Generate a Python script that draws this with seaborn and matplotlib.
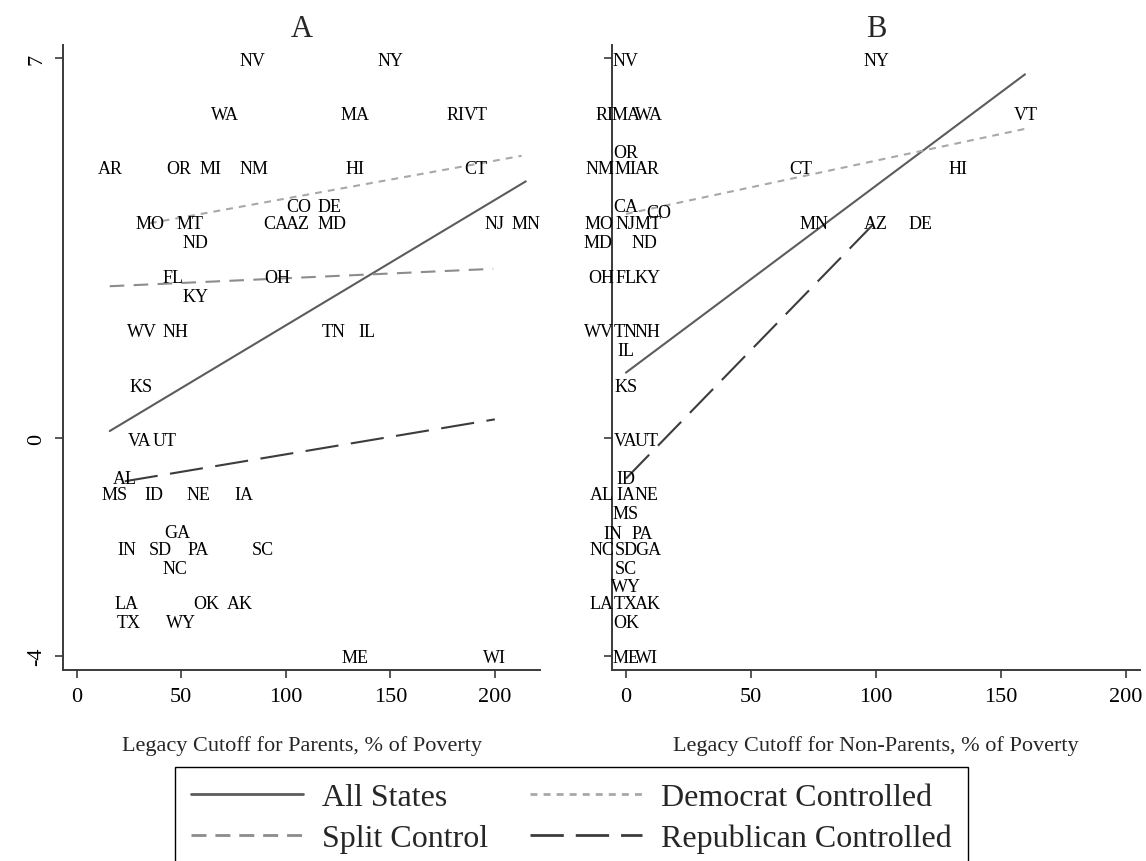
import numpy as np
import pandas as pd
import matplotlib
matplotlib.use("Agg")
import matplotlib.pyplot as plt
from matplotlib.lines import Line2D
import seaborn as sns

# ---------------- data ----------------
states = ["NV", "NY", "WA", "MA", "RI", "VT", "AR", "OR", "MI", "NM", "HI", "CT",
          "CO", "DE", "MO", "MT", "ND", "CA", "AZ", "MD", "NJ", "MN",
          "FL", "OH", "KY", "WV", "NH", "TN", "IL", "KS", "VA", "UT",
          "AL", "MS", "ID", "NE", "IA", "GA", "IN", "SD", "PA", "SC", "NC",
          "LA", "OK", "AK", "TX", "WY", "ME", "WI"]
score = [7, 7, 6, 6, 6, 6, 5, 5, 5, 5, 5, 5,
         4, 4, 4, 4, 4, 4, 4, 4, 4, 4,
         3, 3, 3, 2, 2, 2, 2, 1, 0, 0,
         -1, -1, -1, -1, -1, -2, -2, -2, -2, -2, -2,
         -3, -3, -3, -3, -3, -4, -4]
cutoff_parents = [84, 150, 71, 133, 181, 191, 16, 49, 64, 85, 133, 191,
                  106, 121, 35, 54, 57, 95, 106, 122, 200, 215,
                  46, 96, 57, 31, 47, 123, 139, 31, 30, 42,
                  23, 18, 37, 58, 80, 48, 24, 40, 58, 89, 47,
                  24, 62, 78, 25, 50, 133, 200]
cutoff_nonparents = [0, 100, 0, 0, 0, 160, 0, 0, 0, 0, 133, 70,
                     0, 118, 0, 0, 0, 0, 100, 0, 0, 75,
                     0, 0, 0, 0, 0, 0, 0, 0, 0, 0,
                     0, 0, 0, 0, 0, 0, 0, 0, 0, 0, 0,
                     0, 0, 0, 0, 0, 0, 0]

series_names = ["All States", "Split Control", "Democrat Controlled", "Republican Controlled"]

# fitted lines, panel A (x = parents cutoff)
fitA_all_x, fitA_all_y = [15.8, 214.8], [0.135, 4.73]
fitA_dem_x, fitA_dem_y = [35.0, 212.8], [3.96, 5.20]
fitA_split_x, fitA_split_y = [15.8, 199.2], [2.80, 3.12]
fitA_rep_x, fitA_rep_y = [23.0, 200.0], [-0.79, 0.35]
# fitted lines, panel B (x = non-parents cutoff)
fitB_all_x, fitB_all_y = [0.0, 159.6], [1.21, 6.70]
fitB_dem_x, fitB_dem_y = [0.0, 160.0], [4.13, 5.70]
fitB_rep_x, fitB_rep_y = [0.0, 100.0], [-0.74, 3.99]

xticks = [0, 50, 100, 150, 200]
yticks = [7, 0, -4]

# ---------------- label placement (style) ----------------
# (ha, dx_px, dy_px) ; dy positive = down
POS = {
    "c": ("center", 0, 0), "U": ("center", 0, -16.5), "D": ("center", 0, 19),
    "L": ("right", -12, 0), "R": ("left", 9, 0),
    "UL": ("right", -4, -16), "UR": ("left", 6, -16), "UR2": ("left", 20, -11),
    "DL": ("right", -13, 19), "DR": ("left", 6, 19),
}
posA = {s: "c" for s in states}
posA.update({"CO": "U", "DE": "U", "AL": "U", "GA": "U",
             "ND": "D", "KY": "D", "NC": "D", "TX": "D", "WY": "D"})
posB = {s: "c" for s in states}
posB.update({"RI": "L", "WA": "R", "OR": "U", "NM": "L", "AR": "R", "CA": "U", "CO": "UR2",
             "MO": "L", "MT": "R", "MD": "DL", "ND": "DR", "OH": "L", "KY": "R",
             "WV": "L", "NH": "R", "IL": "D", "UT": "R", "ID": "U", "AL": "L", "NE": "R",
             "MS": "D", "IN": "UL", "PA": "UR", "NC": "L", "GA": "R", "SC": "D",
             "WY": "U", "LA": "L", "AK": "R", "OK": "D", "WI": "R"})

# ---------------- style ----------------
sns.set_theme(style="ticks")
SERIF = ["Liberation Serif", "DejaVu Serif"]
plt.rcParams["font.family"] = SERIF
plt.rcParams["axes.unicode_minus"] = False
plt.rcParams["axes.edgecolor"] = "#3a3a3a"
plt.rcParams["xtick.color"] = "#3a3a3a"
plt.rcParams["ytick.color"] = "#3a3a3a"
plt.rcParams["xtick.labelcolor"] = "black"
plt.rcParams["ytick.labelcolor"] = "black"

colors = {"All States": "#5c5c5c", "Split Control": "#8c8c8c",
          "Democrat Controlled": "#a8a8a8", "Republican Controlled": "#3c3c3c"}
dashes = {"All States": "", "Split Control": (7, 4.5),
          "Democrat Controlled": (3.3, 2.9), "Republican Controlled": (16, 6)}
leg_dashes = {"All States": None, "Split Control": (5.4, 3.2),
              "Democrat Controlled": (2.5, 2.2), "Republican Controlled": (12, 4.3)}
LW = 1.5
LEG_LW = 2.0

W, H = 1146, 862
fig = plt.figure(figsize=(W / 100, H / 100), dpi=100)
axA = fig.add_axes([63 / W, 1 - 671 / H, (540 - 63) / W, (671 - 45.7) / H])
axB = fig.add_axes([611.7 / W, 1 - 671 / H, (1140 - 611.7) / W, (671 - 45.7) / H])

dfA = pd.DataFrame({
    "x": fitA_all_x + fitA_split_x + fitA_dem_x + fitA_rep_x,
    "y": fitA_all_y + fitA_split_y + fitA_dem_y + fitA_rep_y,
    "series": sum([[n] * 2 for n in series_names], []),
})
dfB = pd.DataFrame({
    "x": fitB_all_x + fitB_dem_x + fitB_rep_x,
    "y": fitB_all_y + fitB_dem_y + fitB_rep_y,
    "series": ["All States"] * 2 + ["Democrat Controlled"] * 2 + ["Republican Controlled"] * 2,
})

for ax, df, xs, pos, title, xlabel, xlim in [
    (axA, dfA, cutoff_parents, posA, "A", "Legacy Cutoff for Parents, % of Poverty", (-6.55, 221.6)),
    (axB, dfB, cutoff_nonparents, posB, "B", "Legacy Cutoff for Non-Parents, % of Poverty", (-5.7, 205.6)),
]:
    sns.lineplot(data=df, x="x", y="y", hue="series", style="series",
                 palette={k: colors[k] for k in df["series"].unique()},
                 dashes={k: dashes[k] for k in df["series"].unique()},
                 estimator=None, sort=False, linewidth=LW, legend=False, ax=ax)
    for s, xv, yv in zip(states, xs, score):
        ha, dx, dy = POS[pos[s]]
        ax.annotate(s, (xv, yv), xytext=(dx * 0.72, -dy * 0.72), textcoords="offset points",
                    ha=ha, va="center_baseline", fontsize=13, color="black", zorder=3)
    ax.set_xlim(*xlim)
    ax.set_ylim(-4.263, 7.245)
    ax.set_xticks(xticks)
    ax.set_yticks(yticks)
    ax.tick_params(axis="both", direction="out", length=6, width=1.2, labelsize=16, pad=6)
    ax.tick_params(axis="y", labelrotation=90)
    for lab in ax.get_yticklabels():
        lab.set_va("center")
    sns.despine(ax=ax)
    for sp in ["left", "bottom"]:
        ax.spines[sp].set_linewidth(1.4)
    ax.set_xlabel(xlabel, fontsize=16, labelpad=21)
    ax.set_ylabel("")
    ax.set_title(title, fontsize=22, pad=6)
    ax.set_facecolor("white")

axB.tick_params(axis="y", labelleft=False)

handles = []
for n in series_names:
    h = Line2D([0], [0], color=colors[n], lw=LEG_LW, linestyle="-" if leg_dashes[n] is None else "--")
    if leg_dashes[n] is not None:
        h.set_dashes(leg_dashes[n])
    handles.append(h)
leg = fig.legend(handles, series_names, ncol=2, loc="upper center",
                 bbox_to_anchor=(571.5 / W, 1 - 768 / H), fontsize=23,
                 frameon=True, fancybox=False, edgecolor="black", framealpha=1,
                 handlelength=3.5, handletextpad=0.6, columnspacing=1.3,
                 labelspacing=0.35, borderpad=0.5, borderaxespad=0)
leg.get_frame().set_linewidth(1.0)

fig.savefig("out.png", dpi=100, facecolor="white")
